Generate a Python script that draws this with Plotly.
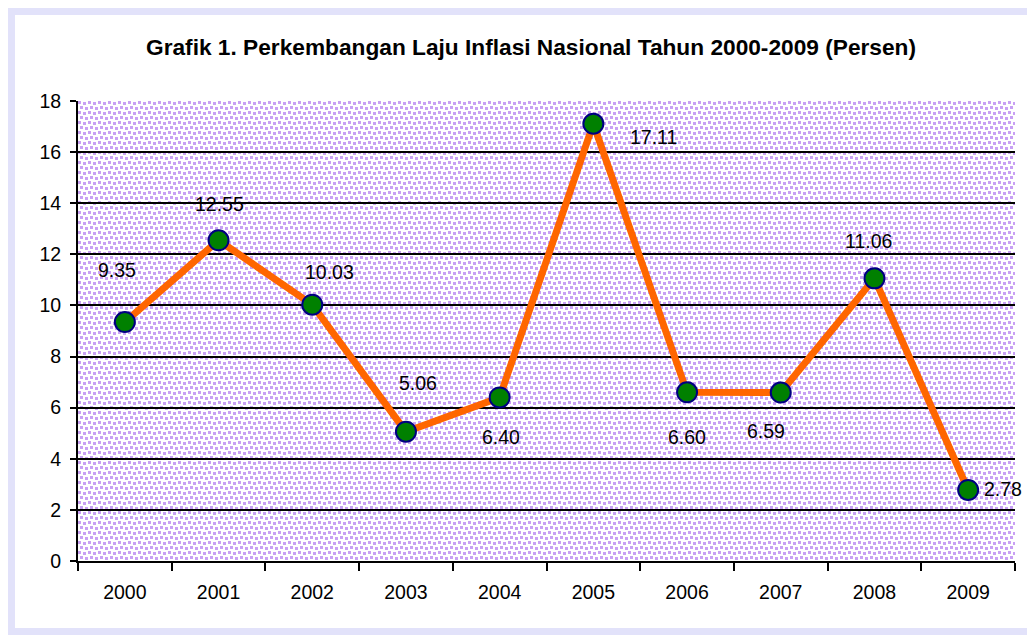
import base64
import plotly.graph_objects as go

years = ["2000", "2001", "2002", "2003", "2004", "2005", "2006", "2007", "2008", "2009"]
inflation = [9.35, 12.55, 10.03, 5.06, 6.40, 17.11, 6.60, 6.59, 11.06, 2.78]
y_ticks = [0, 2, 4, 6, 8, 10, 12, 14, 16, 18]

# label offsets in pixels (dx, dy up)
label_dx = [-8, 1, 17, 12, 1, 60, 0, -15, -6, 35]
label_dy = [52, 36, 33, 49, -40, -13, -45, -38, 37, 1]

FONT = "Arial, Liberation Sans, sans-serif"

# dotted background pattern (decorative)
dot = "#C8A0F4"
svg = (
    "<svg xmlns='http://www.w3.org/2000/svg' width='937' height='460'>"
    "<defs><pattern id='p' width='10' height='10' patternUnits='userSpaceOnUse'>"
    f"<rect x='0' y='0' width='3' height='3' fill='{dot}'/>"
    f"<rect x='5' y='1' width='3' height='3' fill='{dot}'/>"
    f"<rect x='2' y='5' width='3' height='3' fill='{dot}'/>"
    f"<rect x='7' y='6' width='3' height='3' fill='{dot}'/>"
    "</pattern></defs>"
    "<rect width='100%' height='100%' fill='#ffffff'/>"
    "<rect width='100%' height='100%' fill='url(#p)'/></svg>"
)
svg_uri = "data:image/svg+xml;base64," + base64.b64encode(svg.encode()).decode()

fig = go.Figure()
fig.add_trace(go.Scatter(
    x=years, y=inflation, mode="lines+markers",
    line=dict(color="#FF6600", width=7),
    marker=dict(size=20, color="#008000", line=dict(color="#000080", width=2)),
    hoverinfo="x+y", showlegend=False,
))

annotations = []
for i, (v, dx, dy) in enumerate(zip(inflation, label_dx, label_dy)):
    annotations.append(dict(
        x=i, y=v, xref="x", yref="y", text=f"{v:.2f}", showarrow=False,
        xshift=dx, yshift=dy, font=dict(family=FONT, size=19.5, color="black"),
    ))

W, H = 1027, 627
L, R, T, B = 70, 20, 93, 74
pw, ph = W - L - R, H - T - B


def px(fx):
    return (fx - L) / pw


def py(fy):
    return (H - B - fy) / ph


fig.update_layout(
    width=W, height=H,
    margin=dict(l=L, r=R, t=T, b=B),
    paper_bgcolor="white",
    plot_bgcolor="rgba(0,0,0,0)",
    font=dict(family=FONT, size=19.5, color="black"),
    title=dict(
        text="<b>Grafik 1. Perkembangan Laju Inflasi Nasional Tahun 2000-2009 (Persen)</b>",
        x=523 / W, xanchor="center", y=1 - 39 / H, yanchor="middle",
        font=dict(family=FONT, size=22.7, color="black"),
    ),
    xaxis=dict(
        type="category", categoryorder="array", categoryarray=years,
        range=[-0.5, 9.5], tickson="boundaries",
        ticks="outside", ticklen=8, tickwidth=2, tickcolor="black",
        showline=True, linewidth=2, linecolor="black",
        showgrid=False, zeroline=False, ticklabelstandoff=13,
        tickfont=dict(family=FONT, size=19.5, color="black"),
    ),
    yaxis=dict(
        range=[0, 18], tickvals=y_ticks,
        ticks="outside", ticklen=6, tickwidth=2, tickcolor="black",
        showline=True, linewidth=2, linecolor="black",
        showgrid=True, gridcolor="black", gridwidth=1.5,
        zeroline=False, ticklabelstandoff=5,
        tickfont=dict(family=FONT, size=19.5, color="black"),
    ),
    images=[dict(
        source=svg_uri, xref="paper", yref="paper", x=0, y=1,
        sizex=1, sizey=1, sizing="stretch", xanchor="left", yanchor="top",
        layer="below",
    )],
    shapes=[dict(
        type="rect", xref="paper", yref="paper",
        x0=px(3), x1=px(1027), y0=py(624), y1=py(3),
        line=dict(color="#E2E2FA", width=8), fillcolor="rgba(0,0,0,0)",
        layer="below",
    )],
    annotations=annotations,
)

fig.write_html("out.html")
